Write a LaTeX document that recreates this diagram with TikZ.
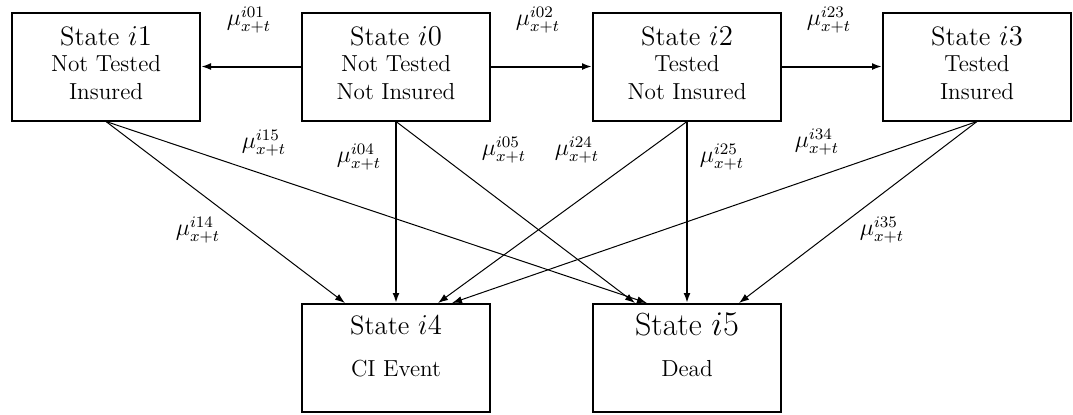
\documentclass[tikz,border=0pt]{standalone}
\usetikzlibrary{arrows.meta,calc}
\begin{document}
\begin{tikzpicture}[x=0.5pt,y=-0.5pt,
  statebox/.style={draw,line width=1pt,minimum width=94pt,minimum height=54pt,inner sep=0pt},
  titletext/.style={anchor=base,inner sep=0pt,font=\fontsize{13.3}{16}\selectfont},
  bigtitle/.style={anchor=base,inner sep=0pt,font=\fontsize{16}{19}\selectfont},
  desc/.style={anchor=base,inner sep=0pt,font=\fontsize{11.6}{13.5}\selectfont},
  rate/.style={inner sep=0pt,font=\fontsize{11.8}{14}\selectfont},
  flow/.style={line width=1pt,-{Latex[length=5pt,width=3.5pt]}},
  thinflow/.style={line width=0.5pt,-{Latex[length=5pt,width=3.5pt]}}]
\useasboundingbox (0,0) rectangle (1073,414);

% state boxes
\node[statebox] (i1) at (106,66.5) {};
\node[statebox] (i0) at (396,66.5) {};
\node[statebox] (i2) at (687,66.5) {};
\node[statebox] (i3) at (977,66.5) {};
\node[statebox] (i4) at (396,358) {};
\node[statebox] (i5) at (687,358) {};

% box texts
\node[titletext] (i1a) at ($(i1)+(0,-21.5)$) {State $i1$};
\node[desc] (i1b) at ($(i1)+(0,5.2)$) {Not Tested};
\node[desc] (i1c) at ($(i1)+(0,32.8)$) {Insured};

\node[titletext] (i0a) at ($(i0)+(0,-21.5)$) {State $i0$};
\node[desc] (i0b) at ($(i0)+(0,5.2)$) {Not Tested};
\node[desc] (i0c) at ($(i0)+(0,32.8)$) {Not Insured};

\node[titletext] (i2a) at ($(i2)+(0,-21.5)$) {State $i2$};
\node[desc] (i2b) at ($(i2)+(0,5.2)$) {Tested};
\node[desc] (i2c) at ($(i2)+(0,32.8)$) {Not Insured};

\node[titletext] (i3a) at ($(i3)+(0,-21.5)$) {State $i3$};
\node[desc] (i3b) at ($(i3)+(0,5.2)$) {Tested};
\node[desc] (i3c) at ($(i3)+(0,32.8)$) {Insured};

\node[titletext] (i4a) at ($(i4)+(0,-24)$) {State $i4$};
\node[desc] (i4b) at ($(i4)+(0,18)$) {CI Event};

\node[bigtitle] (i5a) at ($(i5)+(0,-23)$) {State $i5$};
\node[desc] (i5b) at ($(i5)+(0,18)$) {Dead};

% transitions between the living states
\draw[flow] (i0) -- (i1);
\draw[flow] (i0) -- (i2);
\draw[flow] (i2) -- (i3);

% transitions to CI event and death
\draw[flow] (i0.south) -- (i4.north);
\draw[flow] (i2.south) -- (i5.north);
\draw[thinflow] (i1.south) -- ($(i4.north)+(-51,0)$);
\draw[thinflow] (i1.south) -- ($(i5.north)+(-40,0)$);
\draw[thinflow] (i0.south) -- ($(i5.north)+(-52,0)$);
\draw[thinflow] (i2.south) -- ($(i4.north)+(42,0)$);
\draw[thinflow] (i3.south) -- ($(i4.north)+(56,0)$);
\draw[thinflow] (i3.south) -- ($(i5.north)+(52,0)$);

% transition intensities
\node[rate] (m01) at (249,20) {$\mu_{x+t}^{i01}$};
\node[rate] (m02) at (538,20) {$\mu_{x+t}^{i02}$};
\node[rate] (m23) at (829,20) {$\mu_{x+t}^{i23}$};
\node[rate] (m15) at (264,143) {$\mu_{x+t}^{i15}$};
\node[rate] (m04) at (359,157) {$\mu_{x+t}^{i04}$};
\node[rate] (m05) at (504,150) {$\mu_{x+t}^{i05}$};
\node[rate] (m24) at (577,150) {$\mu_{x+t}^{i24}$};
\node[rate] (m25) at (722,157) {$\mu_{x+t}^{i25}$};
\node[rate] (m34) at (817,142) {$\mu_{x+t}^{i34}$};
\node[rate] (m14) at (198,230) {$\mu_{x+t}^{i14}$};
\node[rate] (m35) at (882,230) {$\mu_{x+t}^{i35}$};
\end{tikzpicture}
\end{document}
